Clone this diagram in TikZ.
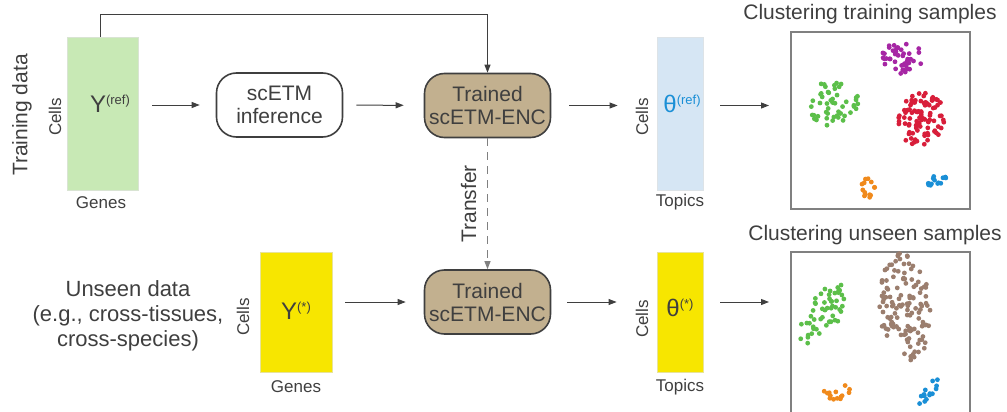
\documentclass[tikz,border=0pt]{standalone}
\usepackage{fontspec}
\setmainfont{Liberation Sans}
\usetikzlibrary{arrows.meta, positioning, calc}

\definecolor{ink}{HTML}{3F3F3F}
\definecolor{matgreen}{HTML}{C8E9B5}
\definecolor{matblue}{HTML}{D6E6F4}
\definecolor{matyellow}{HTML}{F7E600}
\definecolor{enctan}{HTML}{C2B08F}
\definecolor{cpurple}{HTML}{A626A4}
\definecolor{cgreen}{HTML}{5CBF4A}
\definecolor{cred}{HTML}{D81E3A}
\definecolor{corange}{HTML}{F08A1C}
\definecolor{cblue}{HTML}{1A8FD6}
\definecolor{cbrown}{HTML}{9B7E6E}

% one cloud of points: cx, cy, rx, ry, rotation, count, colour
\newcommand{\cloud}[7]{%
  \foreach \k in {1,...,#6}{%
    \pgfmathsetmacro\rr{sqrt(rnd)}%
    \pgfmathsetmacro\aa{360*rnd}%
    \pgfmathsetmacro\ux{#3*\rr*cos(\aa)}%
    \pgfmathsetmacro\uy{#4*\rr*sin(\aa)}%
    \fill[#7] ({#1+\ux*cos(#5)-\uy*sin(#5)},{#2+\ux*sin(#5)+\uy*cos(#5)}) circle (1.2pt);
  }}
% small raised index
\newcommand{\idx}[1]{\raisebox{0.6ex}{\fontsize{6.5}{7}\selectfont(#1)}}

\begin{document}
\begin{tikzpicture}[x=0.5pt, y=-0.5pt, font=\fontsize{10.5}{12.5}\selectfont, text=ink,
  mat/.style={rectangle,draw=#1!80!black!40,fill=#1,line width=0.4pt,inner sep=0pt},
  rbox/.style={rectangle,rounded corners=10pt,draw=ink,line width=0.8pt,minimum width=63pt,minimum height=32pt,align=center,inner sep=1pt,font=\fontsize{10.5}{11.5}\selectfont},
  lab/.style={font=\fontsize{8.5}{10}\selectfont},
  vlab/.style={lab,rotate=90},
  sym/.style={font=\fontsize{12}{13}\selectfont},
  plot/.style={rectangle,draw=black!50,line width=1pt,minimum width=89.5pt,inner sep=0pt},
  arr/.style={-{Triangle[length=4pt,width=3pt]},draw=ink,line width=0.5pt}]
  \useasboundingbox (0,0) rectangle (1007,412);

  % training row
  \node[vlab,font=\fontsize{10.5}{12}\selectfont](train) at (22,115){Training data};
  \node[mat=matgreen,minimum width=35.5pt,minimum height=76.5pt](yref) at (102.5,113.5){};
  \node[sym](yreft) at (110,104){Y\idx{ref}};
  \node[vlab](yrefc) at (55,117){Cells};
  \node[lab](yrefg) at (101,203){Genes};
  \node[rbox,fill=white](infer) at (279.5,105){scETM\\inference};
  \node[rbox,fill=enctan](encA) at (487.5,105.5){Trained\\scETM-ENC};
  \node[mat=matblue,minimum width=23pt,minimum height=76.5pt](thref) at (680,113.5){};
  \node[sym,text=cblue](threft) at (682,104){θ\idx{ref}};
  \node[vlab](threfc) at (642,117){Cells};
  \node[lab](threfg) at (680,202){Topics};
  \node[plot,minimum height=88.5pt](plotA) at (880.5,120.5){};
  \node(plotAt) at (870,14){Clustering training samples};

  % unseen row
  \node[align=center,font=\fontsize{11}{12.5}\selectfont](unseen) at (128,316){Unseen data\\(e.g., cross-tissues,\\cross-species)};
  \node[mat=matyellow,minimum width=36pt,minimum height=60pt](ynew) at (296,312){};
  \node[sym](ynewt) at (296,311){Y\idx{*}};
  \node[vlab](ynewc) at (243,317){Cells};
  \node[lab](ynewg) at (296,387){Genes};
  \node[rbox,fill=enctan](encB) at (487.5,302){Trained\\scETM-ENC};
  \node[mat=matyellow,minimum width=23pt,minimum height=60pt](thnew) at (680,312){};
  \node[sym](thnewt) at (680,308){θ\idx{*}};
  \node[vlab](thnewc) at (642,319){Cells};
  \node[lab](thnewg) at (680,387){Topics};
  \node[plot,minimum height=100pt](plotB) at (880.5,352){};
  \node(plotBt) at (875,235){Clustering unseen samples};

  % connectors
  \foreach \a/\b/\s/\t in {yref.east |- infer.west/infer.west/7/8, infer/encA/6.5/10, encA/encA.east -| thref.west/9/19.5, thref.east |- encA/plotA.west |- encA/8.5/10.5, ynew.east |- encB/encB/6.5/9, encB/encB.east -| thnew.west/8/20, thnew.east |- encB/plotB.west |- encB/8.5/10.5}{\draw[arr,shorten <=\s pt,shorten >=\t pt](\a)--(\b);}
  \draw[arr]([xshift=-1.25pt]yref.north)--++(0,-22)-|(encA.north);
  \draw[arr,draw=black!50,dash pattern=on 4pt off 3pt](encA)--(encB) node[midway,left=2pt,rotate=90,anchor=south,font=\fontsize{10.5}{12}\selectfont]{Transfer};

  % point clouds
  \pgfmathsetseed{11}
  \cloud{902}{57}{22}{17}{0}{45}{cpurple}
  \cloud{832}{103}{27}{23}{0}{50}{cgreen}
  \cloud{922}{118}{23}{28}{25}{95}{cred}
  \cloud{868}{188}{7}{10}{0}{14}{corange}
  \cloud{937}{181}{11}{6}{-30}{14}{cblue}
  \cloud{823}{313}{36}{17}{-57}{55}{cgreen}
  \cloud{905}{307}{26}{54}{-5}{130}{cbrown}
  \cloud{838}{392}{14}{9}{0}{14}{corange}
  \cloud{930}{390}{20}{5}{-55}{14}{cblue}
\end{tikzpicture}
\end{document}
